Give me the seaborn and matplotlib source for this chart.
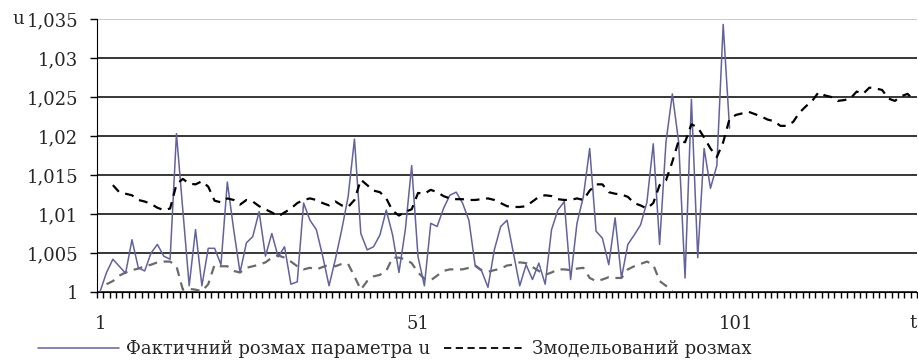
import numpy as np
import pandas as pd
import matplotlib
matplotlib.use("Agg")
import matplotlib.pyplot as plt
import seaborn as sns

# actual range of parameter u, t = 1..100
actual = [1.0001, 1.0025, 1.0042, 1.0033, 1.0024, 1.0067, 1.0031, 1.0027, 1.0050, 1.0061,
          1.0046, 1.0042, 1.0203, 1.0105, 1.0008, 1.0080, 1.0008, 1.0056, 1.0056, 1.0035,
          1.0141, 1.0080, 1.0025, 1.0063, 1.0071, 1.0103, 1.0046, 1.0075, 1.0045, 1.0058,
          1.0010, 1.0013, 1.0114, 1.0092, 1.0080, 1.0046, 1.0008, 1.0042, 1.0080, 1.0122,
          1.0196, 1.0075, 1.0054, 1.0058, 1.0073, 1.0105, 1.0073, 1.0025, 1.0080, 1.0162,
          1.0045, 1.0008, 1.0088, 1.0084, 1.0107, 1.0124, 1.0128, 1.0114, 1.0092, 1.0033,
          1.0027, 1.0006, 1.0054, 1.0084, 1.0092, 1.0050, 1.0008, 1.0035, 1.0016, 1.0037,
          1.0010, 1.0080, 1.0105, 1.0116, 1.0016, 1.0088, 1.0122, 1.0184, 1.0078, 1.0069,
          1.0035, 1.0095, 1.0018, 1.0061, 1.0073, 1.0086, 1.0115, 1.0190, 1.0061, 1.0192,
          1.0254, 1.0192, 1.0018, 1.0247, 1.0044, 1.0184, 1.0133, 1.0162, 1.0343, 1.0210]
actual_start = 1

# modelled range, t = 3..129
modelled = [1.0137, 1.0128, 1.0126, 1.0124, 1.0118, 1.0116, 1.0113, 1.0108, 1.0105, 1.0107,
            1.0138, 1.0145, 1.0139, 1.0138, 1.0142, 1.0135, 1.0117, 1.0115, 1.0120, 1.0118,
            1.0112, 1.0118, 1.0116, 1.0110, 1.0106, 1.0102, 1.0097, 1.0102, 1.0107, 1.0114,
            1.0118, 1.0120, 1.0118, 1.0114, 1.0111, 1.0116, 1.0111, 1.0109, 1.0118, 1.0144,
            1.0137, 1.0130, 1.0128, 1.0120, 1.0104, 1.0098, 1.0103, 1.0106, 1.0127, 1.0126,
            1.0131, 1.0128, 1.0123, 1.0120, 1.0119, 1.0119, 1.0118, 1.0118, 1.0119, 1.0120,
            1.0118, 1.0114, 1.0110, 1.0109, 1.0109, 1.0110, 1.0116, 1.0122, 1.0124, 1.0123,
            1.0119, 1.0118, 1.0118, 1.0120, 1.0118, 1.0130, 1.0138, 1.0138, 1.0128, 1.0126,
            1.0125, 1.0122, 1.0114, 1.0111, 1.0107, 1.0114, 1.0137, 1.0143, 1.0167, 1.0194,
            1.0192, 1.0215, 1.0211, 1.0198, 1.0184, 1.0173, 1.0192, 1.0222, 1.0227, 1.0229,
            1.0231, 1.0228, 1.0225, 1.0221, 1.0219, 1.0213, 1.0213, 1.0218, 1.0230, 1.0238,
            1.0245, 1.0256, 1.0252, 1.0250, 1.0245, 1.0246, 1.0248, 1.0257, 1.0254, 1.0262,
            1.0261, 1.0259, 1.0248, 1.0245, 1.0251, 1.0254, 1.0246]
modelled_start = 3

# lower grey series (not in legend), t = 2..91
lower = [1.0010, 1.0014, 1.0021, 1.0025, 1.0028, 1.0030, 1.0033, 1.0035, 1.0038, 1.0039,
         1.0039, 1.0033, 1.0003, 1.0004, 1.0003, 1.0001, 1.0010, 1.0035, 1.0033, 1.0033,
         1.0027, 1.0025, 1.0031, 1.0033, 1.0035, 1.0038, 1.0044, 1.0047, 1.0044, 1.0039,
         1.0033, 1.0029, 1.0031, 1.0029, 1.0032, 1.0035, 1.0033, 1.0036, 1.0036, 1.0020,
         1.0003, 1.0014, 1.0020, 1.0022, 1.0027, 1.0044, 1.0044, 1.0042, 1.0037, 1.0025,
         1.0017, 1.0015, 1.0021, 1.0027, 1.0029, 1.0029, 1.0029, 1.0031, 1.0034, 1.0028,
         1.0026, 1.0028, 1.0030, 1.0034, 1.0035, 1.0038, 1.0037, 1.0032, 1.0027, 1.0022,
         1.0025, 1.0029, 1.0029, 1.0028, 1.0030, 1.0031, 1.0018, 1.0014, 1.0016, 1.0019,
         1.0018, 1.0018, 1.0029, 1.0033, 1.0036, 1.0039, 1.0035, 1.0014, 1.0008, 1.0001]
lower_start = 2

y_ticks = [1.0, 1.005, 1.01, 1.015, 1.02, 1.025, 1.03, 1.035]
y_tick_labels = ["1", "1,005", "1,01", "1,015", "1,02", "1,025", "1,03", "1,035"]
x_ticks = [1, 51, 101]
n_categories = 129

label_actual = "Фактичний розмах параметра u"
label_modelled = "Змодельований розмах"

sns.set_style("white")
plt.rcParams["font.family"] = ["DejaVu Serif"]

fig = plt.figure(figsize=(9.18, 3.6), dpi=100)
ax = fig.add_axes([97 / 918, 1 - 292 / 360, 1 - 97 / 918 - 0.001, (292 - 19) / 360])


def series_df(values, start):
    return pd.DataFrame({"t": np.arange(start, start + len(values)), "u": values})


df_lower = series_df(lower, lower_start)
df_mod = series_df(modelled, modelled_start)
df_act = series_df(actual, actual_start)

sns.lineplot(data=df_lower, x="t", y="u", ax=ax, color="#6a6a6a", lw=1.6,
             linestyle=(0, (4, 3)), zorder=3)
sns.lineplot(data=df_act, x="t", y="u", ax=ax, color="#62629e", lw=1.1, zorder=4)
sns.lineplot(data=df_mod, x="t", y="u", ax=ax, color="black", lw=1.6,
             linestyle=(0, (4, 3)), zorder=5)

ax.set_xlim(0.5, n_categories + 0.5)
ax.set_ylim(1.0, 1.035)

# horizontal grid lines, the top one light grey
ax.set_yticks(y_ticks)
ax.yaxis.grid(True, color="black", lw=1.1, zorder=2)
ax.xaxis.grid(False)
gl = ax.get_ygridlines()
gl[-1].set_color("#bbbbbb")

ax.spines["top"].set_visible(False)
ax.spines["right"].set_visible(False)
ax.spines["left"].set_color("black")
ax.spines["bottom"].set_color("black")

ax.set_yticklabels(y_tick_labels, fontsize=13)
ax.tick_params(axis="y", left=True, direction="out", length=5, width=1.0,
               color="black", pad=8.5)

ax.set_xticks(x_ticks)
ax.set_xticklabels([str(v) for v in x_ticks], fontsize=13)
ax.set_xticks(np.arange(0.5, n_categories + 1, 1), minor=True)
ax.tick_params(axis="x", which="major", bottom=False, pad=13)
ax.tick_params(axis="x", which="minor", bottom=True, direction="out", length=4.5,
               width=1.0, color="black")
ax.set_xlabel("")
ax.set_ylabel("")

fig.text(12 / 918, 1 - 19 / 360, "u", fontsize=13, va="center", ha="left")
fig.text(913 / 918, 1 - 323 / 360, "t", fontsize=13, va="center", ha="center")

h1 = plt.Line2D([], [], color="#62629e", lw=1.1)
h2 = plt.Line2D([], [], color="black", lw=1.3, linestyle=(0, (4, 2.5)))
fig.legend([h1, h2], [label_actual, label_modelled], loc="center left",
           bbox_to_anchor=(38 / 918, 1 - 349 / 360), ncol=2, frameon=False,
           fontsize=13, handlelength=4.5, handletextpad=0.35, columnspacing=0.8,
           borderpad=0, borderaxespad=0)

fig.savefig("out.png", dpi=100)
